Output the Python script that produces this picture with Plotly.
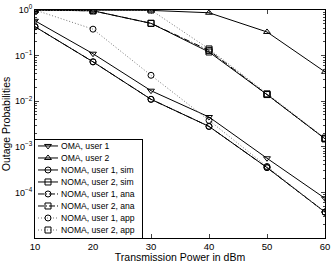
import plotly.graph_objects as go

power = [10, 20, 30, 40, 50, 60]
oma_u1 = [0.58, 0.11, 0.017, 0.0045, 0.00056, 0.000074]
oma_u2 = [1.0, 0.98, 0.98, 0.87, 0.33, 0.044]
noma_u1_sim = [0.43, 0.073, 0.011, 0.0028, 0.00035, 0.000037]
noma_u2_sim = [1.0, 0.96, 0.51, 0.12, 0.014, 0.0015]
noma_u1_ana = [0.43, 0.073, 0.011, 0.0028, 0.00035, 0.000037]
noma_u2_ana = [1.0, 0.96, 0.51, 0.13, 0.014, 0.0015]
noma_u1_app = [1.0, 0.38, 0.037, 0.0038, 0.00037, 0.000037]
noma_u2_app = [1.0, 1.0, 1.0, 0.14, 0.0145, 0.00155]
y_tickvals = [1, 0.1, 0.01, 0.001, 0.0001]
y_ticktext = ["10<sup>0</sup>", "10<sup>−1</sup>", "10<sup>−2</sup>", "10<sup>−3</sup>", "10<sup>−4</sup>"]
x_tickvals = [10, 20, 30, 40, 50, 60]

DOT = "1px,2px"
series = [
    ("OMA, user 1", oma_u1, "triangle-down-open", "solid", "black"),
    ("OMA, user 2", oma_u2, "triangle-up-open", "solid", "black"),
    ("NOMA, user 1, sim", noma_u1_sim, "circle-open", "solid", "black"),
    ("NOMA, user 2, sim", noma_u2_sim, "square-open", "solid", "black"),
    ("NOMA, user 1, ana", noma_u1_ana, "circle-open", "6px,2px,1px,2px", "black"),
    ("NOMA, user 2, ana", noma_u2_ana, "square-open", "6px,2px,1px,2px", "black"),
    ("NOMA, user 1, app", noma_u1_app, "circle-open", DOT, "#777777"),
    ("NOMA, user 2, app", noma_u2_app, "square-open", DOT, "#777777"),
]

fig = go.Figure()
for name, ys, sym, dash, col in series:
    fig.add_trace(go.Scatter(
        x=power, y=ys, name=name, mode="lines+markers", showlegend=False,
        line=dict(color=col, width=1, dash=dash),
        marker=dict(symbol=sym, size=6, color="black", line=dict(width=1, color="black")),
    ))

# compact legend drawn in its own small axes (units: pixels inside the box)
annotations = []
for i, (name, ys, sym, dash, col) in enumerate(series):
    yc = 6 + 12 * i
    fig.add_trace(go.Scatter(
        x=[3, 23], y=[yc, yc], mode="lines", showlegend=False, hoverinfo="skip",
        line=dict(color=col, width=1, dash=dash), xaxis="x2", yaxis="y2",
    ))
    fig.add_trace(go.Scatter(
        x=[13], y=[yc], mode="markers", showlegend=False, hoverinfo="skip",
        marker=dict(symbol=sym, size=6, color="black", line=dict(width=1, color="black")),
        xaxis="x2", yaxis="y2",
    ))
    annotations.append(dict(
        x=24, y=yc, xref="x2", yref="y2", text=name, showarrow=False,
        xanchor="left", yanchor="middle", font=dict(size=8.6),
    ))

font = "Liberation Sans, Arial, Helvetica, sans-serif"
fig.update_layout(
    width=332, height=263,
    margin=dict(l=35, r=7, t=10, b=25),
    paper_bgcolor="white", plot_bgcolor="white",
    font=dict(family=font, size=9, color="black"),
    showlegend=False,
    annotations=annotations,
    xaxis=dict(
        range=[10, 60], tickvals=x_tickvals,
        ticks="inside", ticklen=4, showline=True, linecolor="black", linewidth=1,
        mirror="ticks", showgrid=False, zeroline=False, automargin=False,
        title=dict(text="Transmission Power in dBm", font=dict(size=10.5), standoff=0),
        tickfont=dict(size=9.5),
    ),
    yaxis=dict(
        type="log", range=[-5, 0], tickvals=y_tickvals, ticktext=y_ticktext,
        ticks="inside", ticklen=4, showline=True, linecolor="black", linewidth=1,
        mirror="ticks", showgrid=False, zeroline=False, automargin=False,
        minor=dict(ticks="inside", ticklen=2, dtick="D1"),
        title=dict(text="Outage Probabilities", font=dict(size=10.5), standoff=2),
        tickfont=dict(size=9),
    ),
    xaxis2=dict(
        domain=[0, 0.369], range=[0, 107], anchor="y2",
        showline=True, linecolor="black", linewidth=1, mirror=True,
        showticklabels=False, ticks="", showgrid=False, zeroline=False,
    ),
    yaxis2=dict(
        domain=[0, 0.43], range=[98, 0], anchor="x2",
        showline=True, linecolor="black", linewidth=1, mirror=True,
        showticklabels=False, ticks="", showgrid=False, zeroline=False,
    ),
)
fig.write_html("out.html", config={"displayModeBar": False},
               post_script="document.body.style.margin='0';")
